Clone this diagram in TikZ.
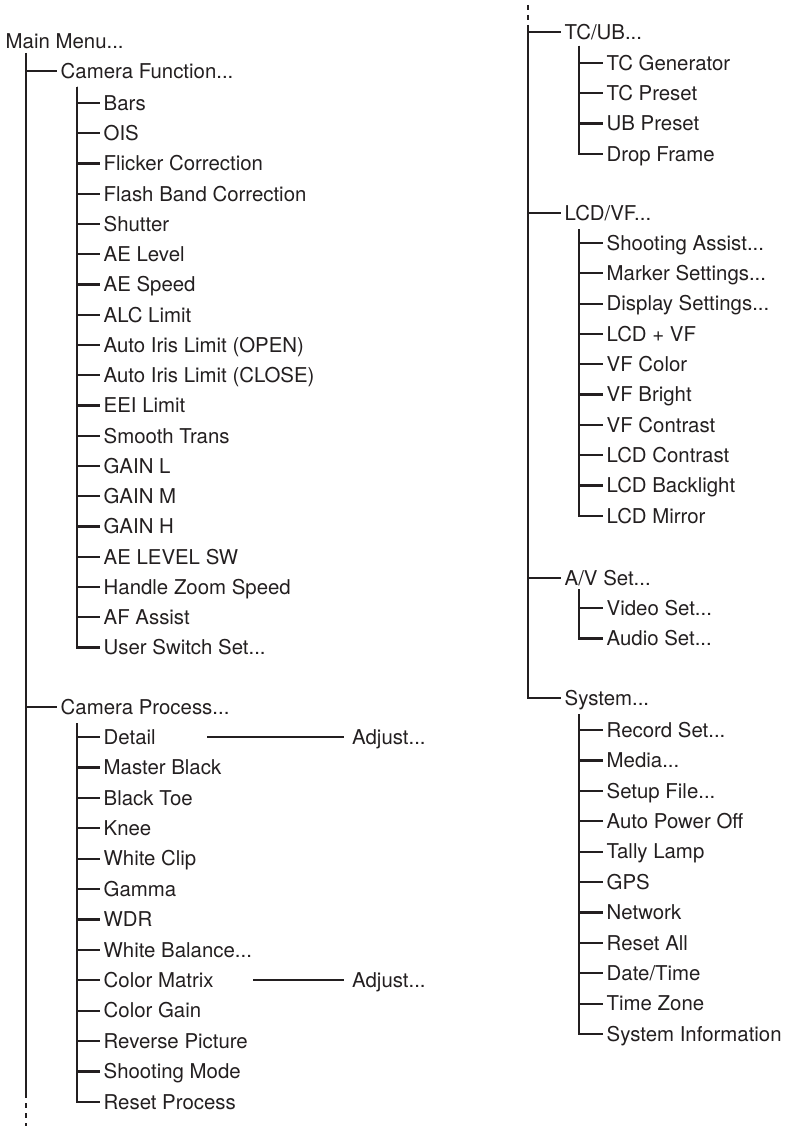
\documentclass[tikz,border=0pt]{standalone}
\usepackage{fontspec}
\setmainfont{TeX Gyre Heros}
\definecolor{ink}{HTML}{231F20}
\tikzset{
  item/.style  = {anchor=west, inner xsep=3.5pt, inner ysep=0pt, text height=14.6pt,
                  text depth=0pt, font=\fontsize{20.4}{24}\selectfont, text=ink},
  tree/.style  = {draw=ink, line width=2.2pt},
  link/.style  = {tree, shorten >=5pt},
  dots/.style  = {tree, dash pattern=on 5pt off 5pt},
}
\newcommand{\mdots}{...}

\begin{document}
\begin{tikzpicture}[x=1pt, y=-1pt]
  \useasboundingbox (0,0) rectangle (785,1126);

  % left column: main trunk
  \node[item] (mm) at (2,41) {Main Menu...};
  \coordinate (mmT) at (26,53);
  \coordinate (mmB) at (26,1098);
  \coordinate (mmD) at (26,1103);
  \coordinate (mmE) at (26,1126);
  \draw[tree] (mmT) -- (mmB);
  \draw[dots] (mmD) -- (mmE);

  \node[item] (cf) at (57,71) {Camera Function...};
  \node[item] (cp) at (57,707) {Camera Process...};
  \draw[tree] (cf.west -| mmT) -- (cf.west);
  \draw[tree] (cp.west -| mmT) -- (cp.west);

  % camera function
  \coordinate (cfT) at (77,87);
  \foreach \i/\n/\t in {0/bars/Bars, 1/ois/OIS, 2/flk/Flicker Correction,
      3/fbc/Flash Band Correction, 4/shu/Shutter, 5/ael/AE Level, 6/aes/AE Speed,
      7/alc/ALC Limit, 8/aio/Auto Iris Limit (OPEN), 9/aic/Auto Iris Limit (CLOSE),
      10/eei/EEI Limit, 11/smt/Smooth Trans, 12/gl/GAIN L, 13/gm/GAIN M,
      14/gh/GAIN H, 15/aesw/AE LEVEL SW, 16/hzs/Handle Zoom Speed,
      17/afa/AF Assist, 18/uss/User Switch Set\mdots}{
    \node[item] (\n) at (100,103+\i*30.25) {\t};
    \draw[tree] (cfT) |- (\n.west);
  }

  % camera process
  \coordinate (cpT) at (77,723);
  \foreach \i/\n/\t in {0/det/Detail, 1/mb/Master Black, 2/bt/Black Toe, 3/kn/Knee,
      4/wc/White Clip, 5/gam/Gamma, 6/wdr/WDR, 7/wb/White Balance\mdots,
      8/cm/Color Matrix, 9/cg/Color Gain, 10/rp/Reverse Picture,
      11/sm/Shooting Mode, 12/rpr/Reset Process}{
    \node[item] (\n) at (100,737+\i*30.4) {\t};
    \draw[tree] (cpT) |- (\n.west);
  }

  \node[item] (adjA) at (348.5,737) {Adjust...};
  \node[item] (adjB) at (348.5,980.2) {Adjust...};
  \coordinate (detR) at (207,737);
  \coordinate (cmR) at (253,980.2);
  \draw[link] (detR) -- (adjA.west);
  \draw[link] (cmR) -- (adjB.west);

  % right column: main trunk
  \coordinate (rD) at (528,5);
  \coordinate (rE) at (528,20);
  \coordinate (rT) at (528,25);
  \draw[dots] (rD) -- (rE);

  \node[item] (tc) at (561,32) {TC/UB...};
  \node[item] (lcd) at (561,213) {LCD/VF...};
  \node[item] (av) at (561,578) {A/V Set...};
  \node[item] (sys) at (561,698) {System...};
  \draw[tree] (rT) |- (sys.west);
  \draw[tree] (tc.west -| rT) -- (tc.west);
  \draw[tree] (lcd.west -| rT) -- (lcd.west);
  \draw[tree] (av.west -| rT) -- (av.west);

  % tc/ub
  \coordinate (tcT) at (579,46);
  \foreach \i/\n/\t in {0/tcg/TC Generator, 1/tcp/TC Preset, 2/ubp/UB Preset,
      3/drf/Drop Frame}{
    \node[item] (\n) at (603,63+\i*30.3) {\t};
    \draw[tree] (tcT) |- (\n.west);
  }

  % lcd/vf
  \coordinate (lcdT) at (579,229);
  \foreach \i/\n/\t in {0/sha/Shooting Assist\mdots, 1/mks/Marker Settings\mdots,
      2/dps/Display Settings\mdots, 3/lpv/LCD + VF, 4/vfc/VF Color, 5/vfb/VF Bright,
      6/vfk/VF Contrast, 7/lck/LCD Contrast, 8/lcb/LCD Backlight, 9/lcm/LCD Mirror}{
    \node[item] (\n) at (603,243+\i*30.3) {\t};
    \draw[tree] (lcdT) |- (\n.west);
  }

  % a/v set
  \coordinate (avT) at (579,589);
  \foreach \i/\n/\t in {0/vds/Video Set\mdots, 1/aus/Audio Set\mdots}{
    \node[item] (\n) at (603,608+\i*30.5) {\t};
    \draw[tree] (avT) |- (\n.west);
  }

  % system
  \coordinate (sysT) at (579,714);
  \foreach \i/\n/\t in {0/rcs/Record Set\mdots, 1/med/Media\mdots, 2/suf/Setup File\mdots,
      3/apo/Auto Power Off, 4/tly/Tally Lamp, 5/gps/GPS, 6/net/Network,
      7/rsa/Reset All, 8/dtt/{Date/Time}, 9/tmz/Time Zone,
      10/sif/System Information}{
    \node[item] (\n) at (603,730+\i*30.4) {\t};
    \draw[tree] (sysT) |- (\n.west);
  }
\end{tikzpicture}
\end{document}
